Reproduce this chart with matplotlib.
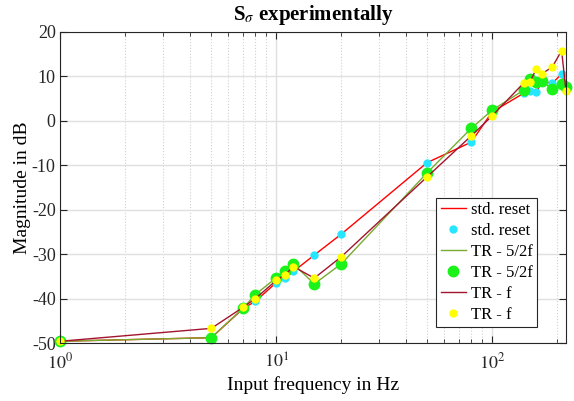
import matplotlib.pyplot as plt
from matplotlib.ticker import LogLocator, NullFormatter, FixedLocator

plt.rcParams['font.family'] = ['Liberation Serif', 'DejaVu Serif']
plt.rcParams['mathtext.fontset'] = 'stix'
plt.rcParams['axes.unicode_minus'] = False

freq = [1, 5, 7, 8, 10, 11, 12, 15, 20, 50, 80, 100, 140, 150, 160, 170, 190, 210, 220]
std_reset = [-49.6, -48.8, -42.3, -40.6, -36.4, -35.3, -33.9, -30.2, -25.5, -9.4, -4.8, 2.0,
             6.2, 6.7, 6.4, 8.8, 8.5, 10.5, 7.9]
tr_52f = [-49.6, -48.8, -42.2, -39.1, -35.3, -33.8, -32.2, -36.7, -32.2, -11.7, -1.7, 2.4,
          6.9, 9.4, 8.7, 9.0, 7.2, 8.2, 7.7]
tr_f = [-49.6, -46.7, -42.0, -40.0, -35.9, -34.6, -32.8, -35.4, -30.6, -12.6, -3.4, 1.1,
        8.5, 8.8, 11.6, 10.6, 12.1, 15.8, 6.8]
yticks = [-50, -40, -30, -20, -10, 0, 10, 20]

fig = plt.figure(figsize=(5.74, 4.01), dpi=100)
ax = fig.add_axes([0.1054, 0.1446, 0.8806, 0.7756])

ax.plot(freq, std_reset, color='red', lw=1, label='std. reset')
ax.plot(freq, std_reset, 'o', ls='none', color=(0.15, 0.9, 1.0), ms=5, label='std. reset', clip_on=False)
ax.plot(freq, tr_52f, color=(0.47, 0.67, 0.19), lw=1, label='TR - 5/2f')
ax.plot(freq, tr_52f, 'o', ls='none', mfc=(0.1, 0.95, 0.1), mec=(0.1, 0.95, 0.1), ms=7.5,
        label='TR - 5/2f', clip_on=False)
ax.plot(freq, tr_f, color=(0.64, 0.08, 0.18), lw=1, label='TR - f')
ax.plot(freq, tr_f, 'o', ls='none', color=(1.0, 1.0, 0.0), ms=5, label='TR - f', clip_on=False)

ax.set_xscale('log')
ax.set_xlim(1, 220)
ax.set_ylim(-50, 20)
ax.set_yticks(yticks)
ax.xaxis.set_major_locator(FixedLocator([1, 10, 100]))
ax.set_xticklabels([r'$10^0$', r'$10^1$', r'$10^2$'])
ax.xaxis.set_minor_locator(LogLocator(base=10, subs=range(2, 10)))
ax.xaxis.set_minor_formatter(NullFormatter())

ax.grid(True, which='major', color='#e0e0e0', lw=1)
ax.grid(True, which='minor', axis='x', color='#d0d0d0', lw=0.8, ls=':')
ax.set_axisbelow(True)
ax.tick_params(which='both', direction='in', top=True, right=True, labelsize=13, colors='#262626')
ax.tick_params(which='major', length=5)
ax.tick_params(which='minor', length=3)
ax.tick_params(axis='x', pad=7)
for s in ax.spines.values():
    s.set_color('#262626')

ax.set_xlabel('Input frequency in Hz', fontsize=14)
ax.set_ylabel('Magnitude in dB', fontsize=14)
ax.xaxis.set_label_coords(0.5, -0.106)
ax.yaxis.set_label_coords(-0.059, 0.5)
ax.set_title(r'S$_\sigma$ experimentally', fontsize=15, fontweight='bold', pad=0, y=1.039)

leg = ax.legend(loc='lower right', bbox_to_anchor=(0.942, 0.051), fontsize=12, fancybox=False,
                framealpha=1, edgecolor='#262626', handlelength=1.5, borderpad=0.25,
                labelspacing=0.3, handletextpad=0.3, borderaxespad=0)
leg.get_frame().set_linewidth(0.8)

fig.savefig('out.png', dpi=100)
